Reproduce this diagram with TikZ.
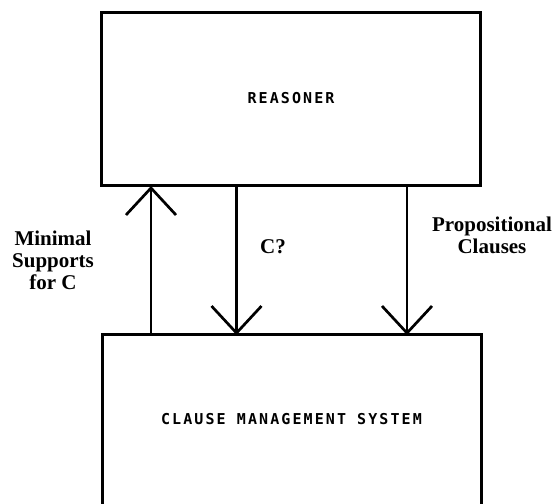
\documentclass[tikz,border=0pt]{standalone}
\usepackage{fontspec}
\setmainfont{Liberation Serif}
\newfontfamily\boxfont[LetterSpace=14]{DejaVu Sans Mono}
\usetikzlibrary{arrows.meta}
\begin{document}
\begin{tikzpicture}[x=1pt,y=1pt,
  box/.style={draw=black, line width=3pt, outer sep=0pt, inner sep=0pt},
  boxtext/.style={font=\boxfont\fontsize{15}{18}\selectfont\bfseries},
  lbl/.style={font=\fontsize{21}{22}\selectfont\bfseries, align=center, inner sep=0pt},
  arr/.style={line width=2.7pt, -{Straight Barb[length=27pt,width=50pt,line width=2.7pt]}}]
\useasboundingbox (0,0) rectangle (555,504);
\begin{scope}
\clip (0,0) rectangle (555,504);
\node[box, minimum width=379pt, minimum height=173pt] (reasoner) at (291,404.5) {};
\node[boxtext] (rtext) at (291,406) {REASONER};
\node[box, minimum width=379pt, minimum height=200pt, anchor=north] (cms) at (291.5,169) {};
\node[boxtext] (ctext) at (291.5,85) {CLAUSE MANAGEMENT SYSTEM};
\end{scope}
\coordinate (up) at (151,250);
\coordinate (mid) at (236.5,250);
\coordinate (rt) at (407,250);
\draw[arr] (cms.north -| up) -- (reasoner.south -| up);
\draw[arr] (reasoner.south -| mid) -- (cms.north -| mid);
\draw[arr] (reasoner.south -| rt) -- (cms.north -| rt);
\node[lbl] (ms) at (53,244) {Minimal\\Supports\\for C};
\node[lbl] (cq) at (273,257) {C?};
\node[lbl] (pc) at (492,269) {Propositional\\Clauses};
\end{tikzpicture}
\end{document}
